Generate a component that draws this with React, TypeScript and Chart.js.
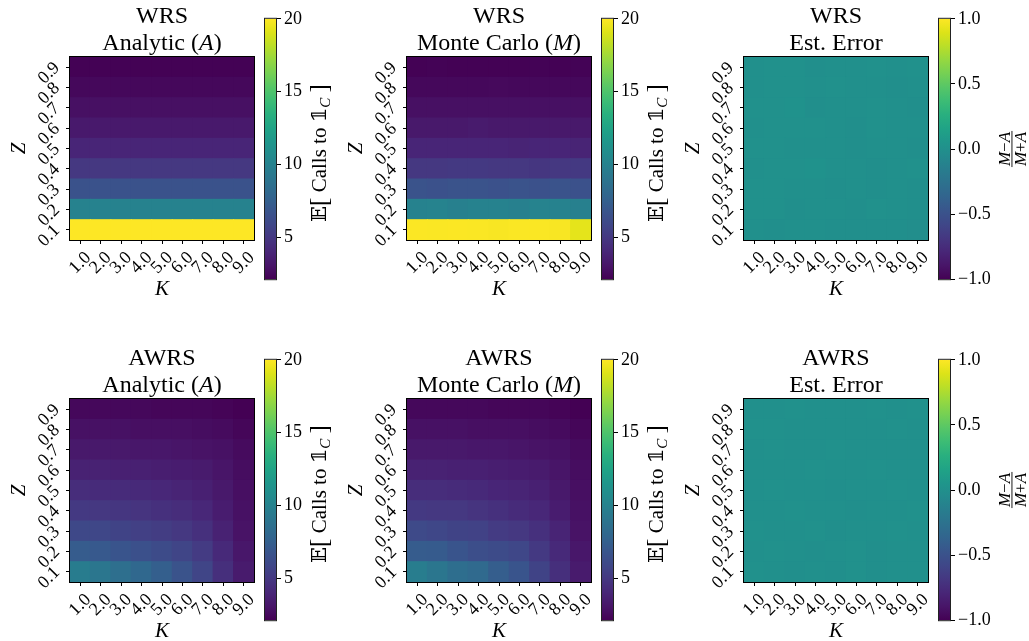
import React, { useEffect, useRef } from "react";
import { Chart, registerables } from "chart.js";

Chart.register(...registerables);

// ---------------- data ----------------
const K_LABELS = ["1.0", "2.0", "3.0", "4.0", "5.0", "6.0", "7.0", "8.0", "9.0"];
const Z_VALUES = [0.1, 0.2, 0.3, 0.4, 0.5, 0.6, 0.7, 0.8, 0.9];
const Z_LABELS = ["0.1", "0.2", "0.3", "0.4", "0.5", "0.6", "0.7", "0.8", "0.9"];
const CALLS_TICKS = [5, 10, 15, 20];
const ERROR_TICKS = [-1, -0.5, 0, 0.5, 1];
const CALLS_RANGE = [2.15, 20];
const ERROR_RANGE = [-1, 1];

// rows: Z = 0.1 ... 0.9, columns: K = 1 ... 9
const WRS_ANALYTIC = [
  [20, 20, 20, 20, 20, 20, 20, 20, 20],
  [10, 10, 10, 10, 10, 10, 10, 10, 10],
  [6.67, 6.67, 6.67, 6.67, 6.67, 6.67, 6.67, 6.67, 6.67],
  [5, 5, 5, 5, 5, 5, 5, 5, 5],
  [4, 4, 4, 4, 4, 4, 4, 4, 4],
  [3.33, 3.33, 3.33, 3.33, 3.33, 3.33, 3.33, 3.33, 3.33],
  [2.86, 2.86, 2.86, 2.86, 2.86, 2.86, 2.86, 2.86, 2.86],
  [2.5, 2.5, 2.5, 2.5, 2.5, 2.5, 2.5, 2.5, 2.5],
  [2.22, 2.22, 2.22, 2.22, 2.22, 2.22, 2.22, 2.22, 2.22],
];
const WRS_MONTE_CARLO = [
  [19.95, 19.9, 19.95, 19.9, 19.85, 19.9, 19.9, 19.85, 19.3],
  [10.0, 10.1, 9.9, 10.0, 10.0, 9.9, 10.1, 10.0, 9.9],
  [6.7, 6.6, 6.7, 6.7, 6.6, 6.7, 6.6, 6.7, 6.6],
  [5.0, 5.0, 5.1, 5.1, 5.0, 5.0, 4.9, 5.0, 5.1],
  [4.0, 4.0, 4.0, 4.0, 4.0, 3.9, 4.0, 4.0, 3.9],
  [3.3, 3.3, 3.3, 3.4, 3.3, 3.3, 3.3, 3.3, 3.3],
  [2.86, 2.85, 2.87, 2.86, 2.85, 2.86, 2.87, 2.86, 2.85],
  [2.5, 2.5, 2.49, 2.5, 2.51, 2.5, 2.5, 2.49, 2.5],
  [2.22, 2.23, 2.22, 2.21, 2.22, 2.22, 2.23, 2.22, 2.24],
];
const WRS_ERROR = [
  [-0.003, -0.005, -0.003, -0.003, -0.008, -0.005, -0.005, -0.008, -0.02],
  [0.008, 0.012, -0.006, 0.002, 0.0, -0.008, 0.008, 0.002, -0.008],
  [0.006, 0.012, -0.004, 0.004, -0.008, 0.002, -0.006, 0.004, -0.006],
  [0.004, 0.008, 0.012, 0.016, -0.002, -0.004, -0.012, 0.0, 0.01],
  [0.006, 0.012, 0.002, 0.0, -0.004, -0.012, 0.002, -0.002, -0.012],
  [0.004, 0.008, 0.01, 0.012, 0.002, -0.008, 0.006, 0.004, -0.004],
  [0.008, 0.01, 0.016, -0.008, -0.004, 0.002, 0.008, 0.0, -0.006],
  [0.004, 0.012, 0.008, -0.004, 0.006, -0.002, 0.002, -0.006, 0.0],
  [0.002, 0.01, 0.006, -0.006, 0.002, 0.0, 0.008, 0.002, 0.012],
];
const AWRS_ANALYTIC = [
  [9.6, 9.1, 8.6, 8.1, 7.5, 6.7, 5.8, 4.5, 3.4],
  [7.3, 7.1, 6.8, 6.5, 6.2, 5.8, 5.2, 4.2, 3.2],
  [6.0, 5.9, 5.7, 5.5, 5.3, 5.0, 4.6, 3.8, 3.0],
  [5.1, 5.0, 4.9, 4.8, 4.6, 4.4, 4.1, 3.5, 2.9],
  [4.4, 4.3, 4.3, 4.2, 4.1, 3.9, 3.7, 3.3, 2.8],
  [3.8, 3.8, 3.7, 3.7, 3.6, 3.5, 3.4, 3.1, 2.7],
  [3.3, 3.3, 3.3, 3.2, 3.2, 3.1, 3.0, 2.9, 2.6],
  [2.9, 2.9, 2.9, 2.8, 2.8, 2.8, 2.7, 2.6, 2.4],
  [2.5, 2.5, 2.5, 2.5, 2.4, 2.4, 2.4, 2.3, 2.15],
];
const AWRS_MONTE_CARLO = [
  [9.7, 9.1, 8.5, 8.2, 7.4, 6.8, 5.7, 4.5, 3.4],
  [7.3, 7.2, 6.8, 6.4, 6.2, 5.9, 5.1, 4.2, 3.2],
  [6.1, 5.9, 5.7, 5.6, 5.2, 5.0, 4.6, 3.9, 3.0],
  [5.1, 5.0, 5.0, 4.8, 4.6, 4.3, 4.1, 3.5, 2.9],
  [4.4, 4.4, 4.3, 4.2, 4.0, 3.9, 3.7, 3.3, 2.8],
  [3.8, 3.8, 3.7, 3.7, 3.6, 3.5, 3.4, 3.1, 2.7],
  [3.3, 3.3, 3.3, 3.2, 3.2, 3.1, 3.0, 2.9, 2.6],
  [2.9, 2.9, 2.9, 2.8, 2.8, 2.8, 2.7, 2.6, 2.4],
  [2.5, 2.5, 2.5, 2.5, 2.4, 2.4, 2.4, 2.3, 2.15],
];
const AWRS_ERROR = [
  [0.006, 0.002, -0.006, 0.004, -0.006, 0.006, -0.008, 0.0, 0.002],
  [0.002, 0.006, 0.0, -0.008, 0.0, 0.008, -0.006, 0.002, 0.004],
  [0.008, 0.002, 0.0, 0.008, -0.008, 0.002, 0.0, 0.012, 0.004],
  [0.004, 0.002, 0.008, 0.0, 0.002, -0.006, 0.002, 0.004, 0.006],
  [0.002, 0.008, 0.002, 0.004, -0.006, 0.002, -0.004, 0.006, 0.002],
  [0.004, 0.002, 0.0, 0.006, 0.004, 0.002, 0.006, 0.002, 0.0],
  [0.002, 0.006, -0.004, 0.002, 0.006, -0.004, 0.004, 0.002, 0.004],
  [0.006, 0.01, 0.002, 0.004, -0.004, 0.004, 0.002, 0.008, 0.002],
  [0.004, 0.002, 0.006, 0.004, 0.002, 0.002, 0.006, 0.004, 0.006],
];

// ---------------- styling ----------------
const SERIF = "'Liberation Serif', 'DejaVu Serif', 'DejaVu Sans', serif";
const TICK_SIZE = 18;
const TITLE_SIZE = 24;
const LABEL_SIZE = 21;
const VIRIDIS = [
  "#440154", "#481568", "#482677", "#453781", "#3F4788", "#39558C", "#32648E",
  "#2D718E", "#287D8E", "#238A8D", "#1F968B", "#20A386", "#29AF7F", "#3CBC75",
  "#56C667", "#75D054", "#95D840", "#BADE28", "#DDE318", "#FDE725",
];
const VIRIDIS_RGB = VIRIDIS.map((h) => [
  parseInt(h.slice(1, 3), 16),
  parseInt(h.slice(3, 5), 16),
  parseInt(h.slice(5, 7), 16),
]);
function viridis(t: number): string {
  const n = VIRIDIS_RGB.length;
  const c = Math.max(0, Math.min(1, t));
  const p = c * (n - 1);
  const i = Math.min(Math.floor(p), n - 2);
  const f = p - i;
  const a = VIRIDIS_RGB[i];
  const b = VIRIDIS_RGB[i + 1];
  const r = a.map((v, k) => Math.round(v + (b[k] - v) * f));
  return `rgb(${r[0]},${r[1]},${r[2]})`;
}

type Run = [string, boolean];

const HEAT_W = 184;
const HEAT_H = 183;
const COL_LEFT = [70, 407, 744];
const ROW_TOP = [57, 399];
const CB_LEFT = [264, 601, 938];
const CB_W = 13;
const CB_TOP = [17, 358];
const CB_H = 264;

const H_PAD_L = 70;
const H_PAD_T = 57;
const H_PAD_R = 6;
const H_CANVAS_H = 295;

const CB_PAD = 12;
const CB_CANVAS_W = 91;

const PANELS = [
  { row: 0, col: 0, t1: "WRS", t2: [["Analytic (", false], ["A", true], [")", false]] as Run[], data: WRS_ANALYTIC, kind: "calls" },
  { row: 0, col: 1, t1: "WRS", t2: [["Monte Carlo (", false], ["M", true], [")", false]] as Run[], data: WRS_MONTE_CARLO, kind: "calls" },
  { row: 0, col: 2, t1: "WRS", t2: [["Est. Error", false]] as Run[], data: WRS_ERROR, kind: "error" },
  { row: 1, col: 0, t1: "AWRS", t2: [["Analytic (", false], ["A", true], [")", false]] as Run[], data: AWRS_ANALYTIC, kind: "calls" },
  { row: 1, col: 1, t1: "AWRS", t2: [["Monte Carlo (", false], ["M", true], [")", false]] as Run[], data: AWRS_MONTE_CARLO, kind: "calls" },
  { row: 1, col: 2, t1: "AWRS", t2: [["Est. Error", false]] as Run[], data: AWRS_ERROR, kind: "error" },
];

function drawRuns(ctx: CanvasRenderingContext2D, runs: Run[], cx: number, y: number, size: number) {
  const fonts = runs.map(([, it]) => `${it ? "italic " : ""}${size}px ${SERIF}`);
  const widths = runs.map(([t], i) => {
    ctx.font = fonts[i];
    return ctx.measureText(t).width;
  });
  const total = widths.reduce((s, w) => s + w, 0);
  let x = cx - total / 2;
  ctx.textAlign = "left";
  ctx.textBaseline = "alphabetic";
  runs.forEach(([t], i) => {
    ctx.font = fonts[i];
    ctx.fillText(t, x, y);
    x += widths[i];
  });
}

function HeatPanel({ panel }: { panel: (typeof PANELS)[number] }) {
  const ref = useRef<HTMLCanvasElement>(null);
  const left = COL_LEFT[panel.col] - H_PAD_L;
  const top = ROW_TOP[panel.row] - H_PAD_T;
  const W = H_PAD_L + HEAT_W + H_PAD_R;
  const H = H_CANVAS_H;
  useEffect(() => {
    const range = panel.kind === "calls" ? CALLS_RANGE : ERROR_RANGE;
    const norm = (v: number) => (v - range[0]) / (range[1] - range[0]);
    const datasets = Z_VALUES.map((z, i) => ({
      label: Z_LABELS[i],
      data: K_LABELS.map(() => [z - 0.05, z + 0.05]),
      backgroundColor: panel.data[i].map((v) => viridis(norm(v))),
      borderWidth: 0,
      barPercentage: 1,
      categoryPercentage: 1,
      grouped: false,
      inflateAmount: 0.5,
    }));
    const decor = {
      id: "heatDecor",
      afterDraw(chart: any) {
        const { ctx, chartArea: a, scales } = chart;
        ctx.save();
        ctx.strokeStyle = "#000";
        ctx.lineWidth = 1;
        ctx.strokeRect(a.left - 0.5, a.top - 0.5, a.right - a.left + 1, a.bottom - a.top + 1);
        ctx.fillStyle = "#000";
        ctx.font = `${TICK_SIZE}px ${SERIF}`;
        ctx.textAlign = "center";
        ctx.textBaseline = "middle";
        scales.x.ticks.forEach((_t: any, i: number) => {
          const x = scales.x.getPixelForTick(i);
          ctx.save();
          ctx.translate(x, a.bottom + 23);
          ctx.rotate(-Math.PI / 4);
          ctx.fillText(K_LABELS[i], 0, 0);
          ctx.restore();
        });
        scales.y.ticks.forEach((t: any, i: number) => {
          const y = scales.y.getPixelForValue(t.value);
          ctx.save();
          ctx.translate(a.left - 21, y + 6);
          ctx.rotate(-Math.PI / 4);
          ctx.fillText(Z_LABELS[i], 0, 0);
          ctx.restore();
        });
        const cx = (a.left + a.right) / 2;
        drawRuns(ctx, [[panel.t1, false]], cx, a.top - 34, TITLE_SIZE);
        drawRuns(ctx, panel.t2, cx, a.top - 7, TITLE_SIZE);
        drawRuns(ctx, [["K", true]], cx, a.bottom + 55, LABEL_SIZE);
        ctx.save();
        ctx.translate(a.left - 45, (a.top + a.bottom) / 2);
        ctx.rotate(-Math.PI / 2);
        drawRuns(ctx, [["Z", true]], 0, 0, LABEL_SIZE);
        ctx.restore();
        ctx.restore();
      },
    };
    const tickGrid = {
      display: true,
      drawOnChartArea: false,
      drawTicks: true,
      tickLength: 4,
      color: "#000",
      lineWidth: 1,
      offset: false,
    };
    const chart = new Chart(ref.current as HTMLCanvasElement, {
      type: "bar",
      data: { labels: K_LABELS, datasets: datasets as any },
      options: {
        responsive: false,
        animation: false,
        devicePixelRatio: 1,
        events: [],
        layout: { padding: { left: 0, top: H_PAD_T, right: H_PAD_R, bottom: 0 } },
        plugins: { legend: { display: false }, tooltip: { enabled: false } },
        scales: {
          x: {
            type: "category",
            offset: true,
            grid: tickGrid,
            border: { display: false },
            ticks: { display: false },
            afterFit: (s: any) => {
              s.height = H - H_PAD_T - HEAT_H;
            },
          },
          y: {
            type: "linear",
            min: 0.05,
            max: 0.95,
            grid: tickGrid,
            border: { display: false },
            ticks: { display: false },
            afterBuildTicks: (s: any) => {
              s.ticks = Z_VALUES.map((v) => ({ value: v }));
            },
            afterFit: (s: any) => {
              s.width = H_PAD_L;
            },
          },
        },
      } as any,
      plugins: [decor],
    });
    return () => chart.destroy();
  }, []);
  return (
    <canvas
      ref={ref}
      width={W}
      height={H}
      style={{ position: "absolute", left, top, width: W, height: H }}
    />
  );
}

function ColorBar({ row, col, kind }: { row: number; col: number; kind: string }) {
  const ref = useRef<HTMLCanvasElement>(null);
  const left = CB_LEFT[col];
  const top = CB_TOP[row] - CB_PAD;
  const W = CB_CANVAS_W;
  const H = CB_H + 2 * CB_PAD;
  useEffect(() => {
    const range = kind === "calls" ? CALLS_RANGE : ERROR_RANGE;
    const ticks = kind === "calls" ? CALLS_TICKS : ERROR_TICKS;
    const decor = {
      id: "cbDecor",
      afterDraw(chart: any) {
        const { ctx, chartArea: a } = chart;
        ctx.save();
        ctx.strokeStyle = "#222";
        ctx.lineWidth = 1;
        ctx.strokeRect(a.left + 0.5, a.top - 0.5, a.right - a.left - 1, a.bottom - a.top + 1);
        ctx.fillStyle = "#000";
        const cy = (a.top + a.bottom) / 2;
        if (kind === "calls") {
          ctx.save();
          ctx.translate(a.right + 49, cy + 4);
          ctx.rotate(-Math.PI / 2);
          const runs: [string, string, number][] = [
            ["\u{1D53C}", `${LABEL_SIZE}px ${SERIF}`, 0],
            ["[", `${LABEL_SIZE + 4}px ${SERIF}`, 1],
            [" Calls to \u{1D7D9}", `${LABEL_SIZE}px ${SERIF}`, 0],
            ["C", `italic 15px ${SERIF}`, 4],
            [" ", `${LABEL_SIZE}px ${SERIF}`, 0],
            ["]", `${LABEL_SIZE + 4}px ${SERIF}`, 1],
          ];
          const widths = runs.map(([t, f]) => {
            ctx.font = f;
            return ctx.measureText(t).width;
          });
          const total = widths.reduce((s, w) => s + w, 0);
          let x = -total / 2;
          ctx.textAlign = "left";
          ctx.textBaseline = "alphabetic";
          runs.forEach(([t, f, dy], i) => {
            ctx.font = f;
            ctx.fillText(t, x, dy);
            x += widths[i];
          });
          ctx.restore();
        } else {
          const barX = a.right + 61;
          ctx.save();
          ctx.translate(barX, cy);
          ctx.rotate(-Math.PI / 2);
          const num: Run[] = [["M", true], ["\u2212", false], ["A", true]];
          const den: Run[] = [["M", true], ["+", false], ["A", true]];
          const measure = (runs: Run[]) =>
            runs.reduce((s, [t, it]) => {
              ctx.font = `${it ? "italic " : ""}17px ${SERIF}`;
              return s + ctx.measureText(t).width;
            }, 0);
          const len = Math.max(measure(num), measure(den)) + 2;
          drawRuns(ctx, num, 0, -2.5, 17);
          drawRuns(ctx, den, 0, 13.5, 17);
          ctx.fillRect(-len / 2, -0.5, len, 0.9);
          ctx.restore();
        }
        ctx.restore();
      },
    };
    const chart = new Chart(ref.current as HTMLCanvasElement, {
      type: "bar",
      data: {
        labels: [""],
        datasets: [
          {
            data: [[range[0], range[1]]],
            backgroundColor: (c: any) => {
              const area = c.chart.chartArea;
              if (!area) return VIRIDIS[0];
              const g = c.chart.ctx.createLinearGradient(0, area.bottom, 0, area.top);
              VIRIDIS.forEach((col, i) => g.addColorStop(i / (VIRIDIS.length - 1), col));
              return g;
            },
            borderWidth: 0,
            barPercentage: 1,
            categoryPercentage: 1,
          },
        ] as any,
      },
      options: {
        responsive: false,
        animation: false,
        devicePixelRatio: 1,
        events: [],
        layout: { padding: { left: 0, top: CB_PAD, right: 0, bottom: CB_PAD } },
        plugins: { legend: { display: false }, tooltip: { enabled: false } },
        scales: {
          x: { display: false, offset: true },
          y: {
            type: "linear",
            position: "right",
            min: range[0],
            max: range[1],
            grid: { display: true, drawOnChartArea: false, drawTicks: true, tickLength: 4, color: "#000", lineWidth: 1 },
            border: { display: false },
            ticks: {
              color: "#000",
              padding: 3,
              font: { family: SERIF, size: TICK_SIZE },
              callback: (v: any) =>
                kind === "calls" ? String(v) : Number(v).toFixed(1).replace("-", "\u2212"),
            },
            afterBuildTicks: (s: any) => {
              s.ticks = ticks.map((v) => ({ value: v }));
            },
            afterFit: (s: any) => {
              s.width = W - CB_W;
            },
          },
        },
      } as any,
      plugins: [decor],
    });
    return () => chart.destroy();
  }, []);
  return (
    <canvas
      ref={ref}
      width={W}
      height={H}
      style={{ position: "absolute", left, top, width: W, height: H }}
    />
  );
}

export default function App() {
  return (
    <div
      style={{
        position: "absolute",
        left: 0,
        top: 0,
        width: 1029,
        height: 641,
        overflow: "hidden",
        background: "#fff",
      }}
    >
      {PANELS.map((p, i) => (
        <HeatPanel key={"h" + i} panel={p} />
      ))}
      {PANELS.map((p, i) => (
        <ColorBar key={"c" + i} row={p.row} col={p.col} kind={p.kind} />
      ))}
    </div>
  );
}
